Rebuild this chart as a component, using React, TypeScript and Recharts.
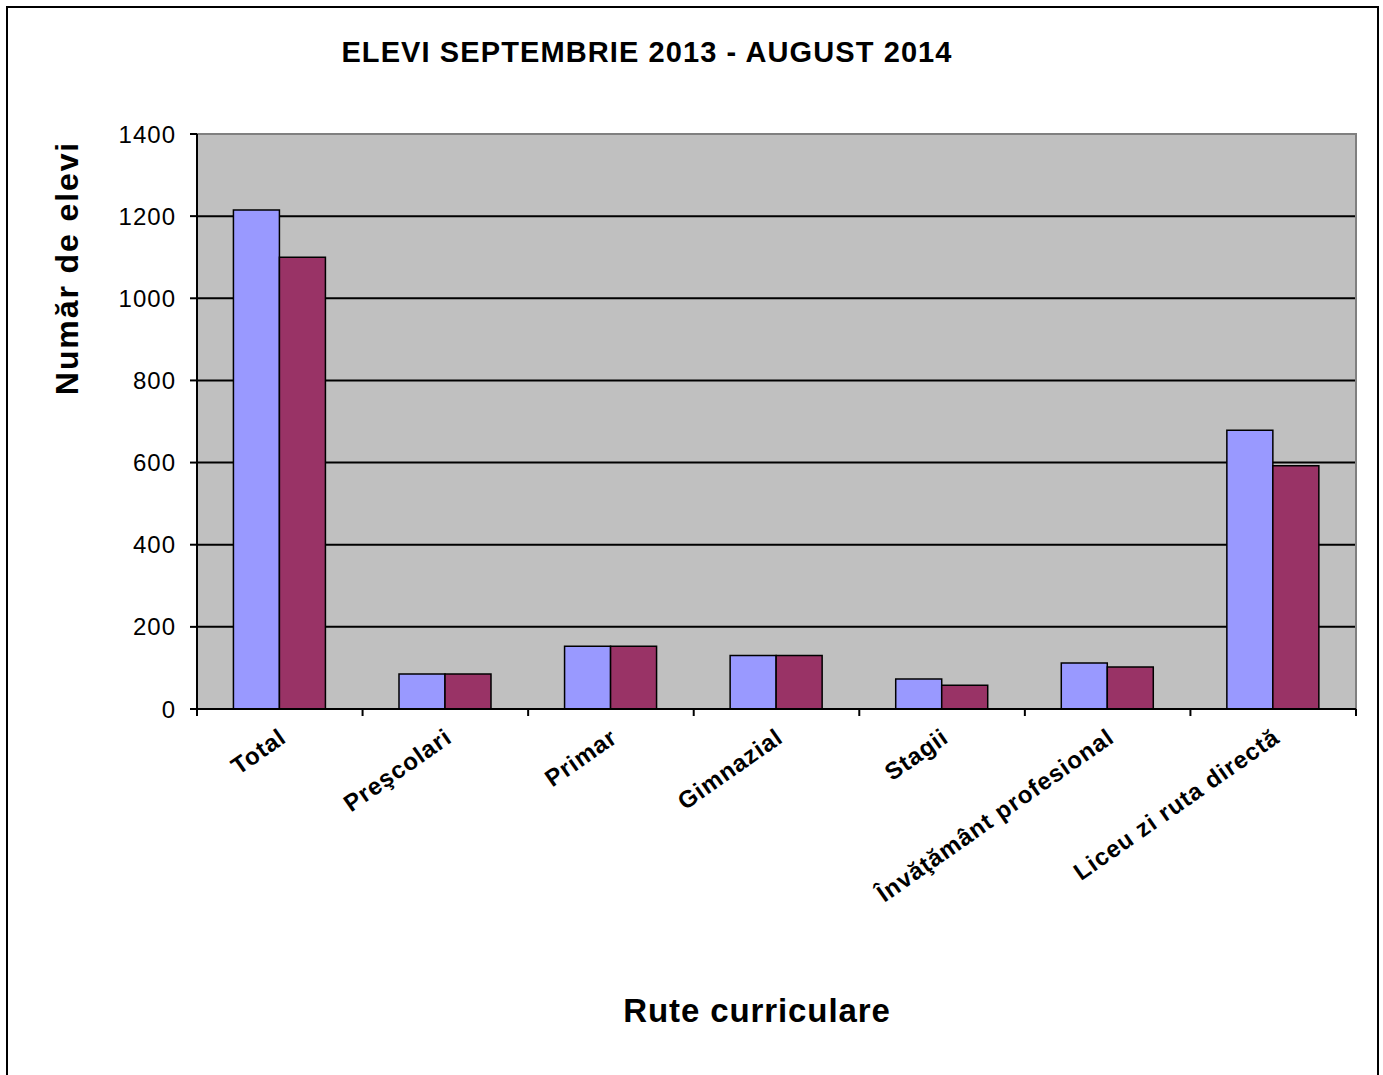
import React from 'react';
import {
  BarChart,
  Bar,
  XAxis,
  YAxis,
  CartesianGrid,
  ReferenceArea,
  Label,
} from 'recharts';

const categories = [
  'Total',
  'Preşcolari',
  'Primar',
  'Gimnazial',
  'Stagii',
  'Învăţământ profesional',
  'Liceu zi ruta directă',
];
const elevi2013 = [1215, 85, 153, 130, 73, 112, 679];
const elevi2014 = [1100, 85, 153, 130, 58, 102, 592];
const yTicks = [0, 200, 400, 600, 800, 1000, 1200, 1400];

const data = categories.map((name, i) => ({
  name,
  a: elevi2013[i],
  b: elevi2014[i],
}));

const W = 1383;
const H = 1075;
const M = { top: 134, right: 27, left: 117, bottom: 0 };
const Y_W = 80;
const X_H = 366;
const PLOT_W = W - M.left - Y_W - M.right;
const FONT = '"Liberation Sans", Arial, sans-serif';

const XTick = (props: any) => {
  const { x, y, payload, index } = props;
  const bw = PLOT_W / categories.length;
  return (
    <g>
      <line x1={x - bw / 2} y1={y} x2={x - bw / 2} y2={y + 7} stroke="#000" strokeWidth={2} />
      {index === categories.length - 1 && (
        <line x1={x + bw / 2} y1={y} x2={x + bw / 2} y2={y + 7} stroke="#000" strokeWidth={2} />
      )}
      <text
        x={x + 8}
        y={y + 32}
        textAnchor="end"
        transform={`rotate(-35, ${x + 8}, ${y + 32})`}
        fontFamily={FONT}
        fontWeight="bold"
        fontSize={24}
        letterSpacing={0.9}
        fill="#000"
      >
        {payload.value}
      </text>
    </g>
  );
};

export default function App() {
  return (
    <div
      style={{
        position: 'absolute',
        left: 0,
        top: 0,
        width: W,
        height: H,
        overflow: 'hidden',
        background: '#fff',
      }}
    >
      <div
        style={{
          position: 'absolute',
          left: 6,
          top: 6,
          width: 1369,
          height: 1200,
          border: '2px solid #000',
        }}
      />
      <div
        style={{
          position: 'absolute',
          left: 0,
          width: 1294,
          top: 38,
          lineHeight: 1,
          textAlign: 'center',
          fontFamily: FONT,
          fontWeight: 'bold',
          fontSize: 29,
          letterSpacing: 1.1,
          whiteSpace: 'nowrap',
        }}
      >
        ELEVI SEPTEMBRIE 2013 - AUGUST 2014
      </div>
      <div
        style={{
          position: 'absolute',
          left: 0,
          width: 1514,
          top: 994,
          lineHeight: 1,
          textAlign: 'center',
          fontFamily: FONT,
          fontWeight: 'bold',
          fontSize: 33,
          letterSpacing: 0.9,
        }}
      >
        Rute curriculare
      </div>
      <div style={{ position: 'absolute', left: 0, top: 0 }}>
        <BarChart
          width={W}
          height={H}
          data={data}
          margin={M}
          barCategoryGap="22%"
          barGap={0}
        >
          <CartesianGrid
            vertical={false}
            fill="#C0C0C0"
            fillOpacity={1}
            stroke="#000"
            strokeWidth={2}
          />
          <ReferenceArea
            y1={0}
            y2={1400}
            fill="none"
            stroke="#808080"
            strokeWidth={2}
            ifOverflow="visible"
          />
          <XAxis
            dataKey="name"
            height={X_H}
            interval={0}
            tickLine={false}
            tickSize={0}
            tickMargin={0}
            axisLine={{ stroke: '#000', strokeWidth: 2 }}
            tick={<XTick />}
          />
          <YAxis
            width={Y_W}
            domain={[0, 1400]}
            ticks={yTicks}
            interval={0}
            tickSize={7}
            tickMargin={14}
            axisLine={{ stroke: '#000', strokeWidth: 2 }}
            tickLine={{ stroke: '#000', strokeWidth: 2 }}
            tick={{ fill: '#000', fontFamily: FONT, fontSize: 24, letterSpacing: 1 }}
          >
            <Label
              content={() => (
                <text
                  x={78}
                  y={268}
                  textAnchor="middle"
                  transform="rotate(-90, 78, 268)"
                  fontFamily={FONT}
                  fontWeight="bold"
                  fontSize={32}
                  letterSpacing={1.9}
                  fill="#000"
                >
                  Număr de elevi
                </text>
              )}
            />
          </YAxis>
          <Bar dataKey="a" fill="#9999FF" stroke="#000" strokeWidth={1.5} isAnimationActive={false} />
          <Bar dataKey="b" fill="#993366" stroke="#000" strokeWidth={1.5} isAnimationActive={false} />
        </BarChart>
      </div>
    </div>
  );
}
